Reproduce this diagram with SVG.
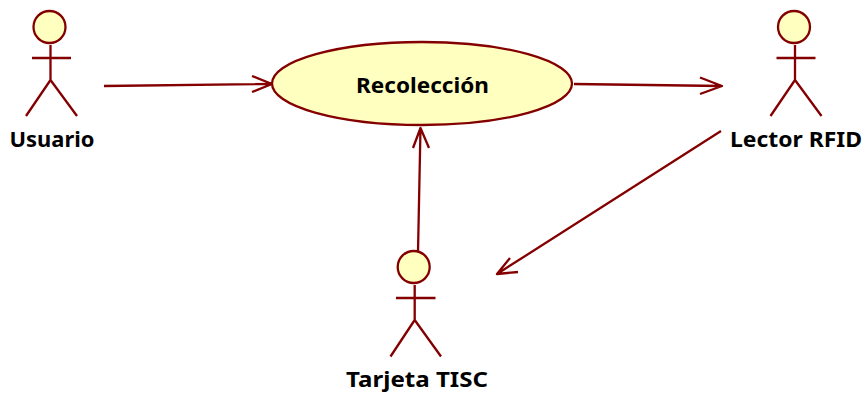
<svg xmlns="http://www.w3.org/2000/svg" width="865" height="394" viewBox="0 0 865 394">
<style>
.s{fill:none;stroke:#840000;stroke-width:2.300;stroke-linejoin:round}
.f{fill:#ffffc0;stroke:#840000;stroke-width:2.300}
text{font-family:"Noto Sans","DejaVu Sans",sans-serif;font-weight:bold;font-size:22px;fill:#000;text-anchor:middle}
</style>
<rect width="865" height="394" fill="#fff"/>
<g id="connectors" class="s">
<path d="M104 86L272 84M252 76L272 84L252 92"/>
<path d="M574 84L722 86M700 77.500L722 86L700 94"/>
<path d="M418 252L420.500 128M413 148L420.500 128L429 148"/>
<path d="M721 131L497 274M510 258L497 274L518 272"/>
</g>
<g id="usuario">
<circle class="f" cx="49.500" cy="27" r="16"/>
<path class="s" d="M50.500 45V80M32 58H71M26 116L50.500 80L77 116"/>
<text x="52" y="147" textLength="85" lengthAdjust="spacingAndGlyphs">Usuario</text>
</g>
<g id="lector-rfid">
<circle class="f" cx="794" cy="27" r="16"/>
<path class="s" d="M795 45V80M776.500 58H815.500M770.500 116L795 80L821.500 116"/>
<text x="796" y="147" textLength="132" lengthAdjust="spacingAndGlyphs">Lector RFID</text>
</g>
<g id="tarjeta-tisc">
<circle class="f" cx="413.700" cy="267" r="16"/>
<path class="s" d="M414.700 285V320M396 298H435.500M390.500 356.500L414.700 320L441 356.500"/>
<text x="417" y="387" textLength="142" lengthAdjust="spacingAndGlyphs">Tarjeta TISC</text>
</g>
<g id="recoleccion">
<ellipse class="f" cx="422" cy="83.500" rx="150" ry="41.500"/>
<text x="422.500" y="93" textLength="133" lengthAdjust="spacingAndGlyphs">Recolección</text>
</g>
</svg>
